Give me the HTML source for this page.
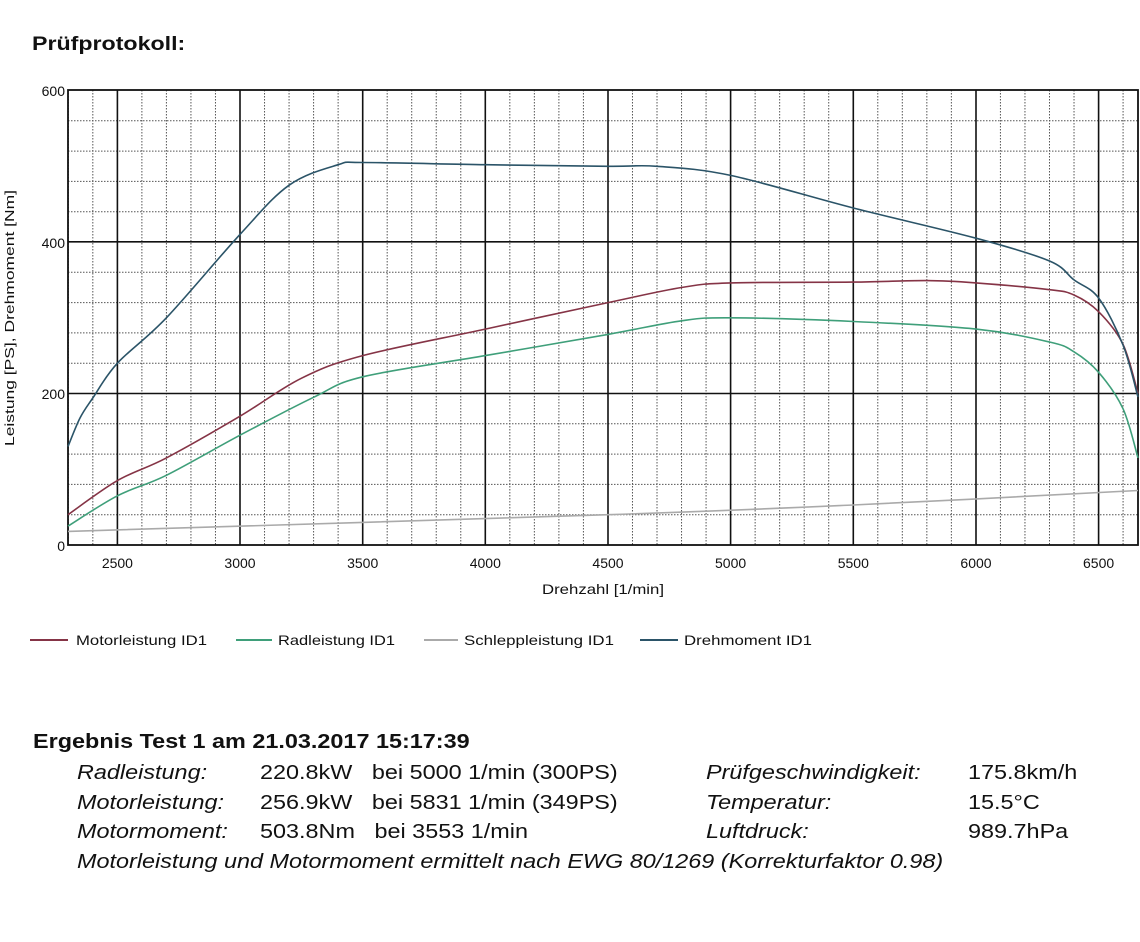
<!DOCTYPE html>
<html><head><meta charset="utf-8"><style>
body{margin:0;background:#fff;width:1140px;height:942px;overflow:hidden;font-family:"Liberation Sans",Arial,sans-serif;color:#111}
.a{position:absolute;white-space:nowrap;transform-origin:0 0;transform:scaleX(1.17)}
</style></head><body>
<div class="a" style="left:32px;top:34px;font-size:19px;font-weight:bold;transform:scaleX(1.22)">Prüfprotokoll:</div>
<svg style="position:absolute;left:0;top:0" width="1140" height="700">
<g stroke="#555" stroke-width="1" stroke-dasharray="1.5,1.5">
<line x1="68" y1="514.7" x2="1138" y2="514.7"/><line x1="68" y1="484.4" x2="1138" y2="484.4"/><line x1="68" y1="454.1" x2="1138" y2="454.1"/><line x1="68" y1="423.8" x2="1138" y2="423.8"/>
<line x1="68" y1="363.2" x2="1138" y2="363.2"/><line x1="68" y1="332.9" x2="1138" y2="332.9"/><line x1="68" y1="302.6" x2="1138" y2="302.6"/><line x1="68" y1="272.3" x2="1138" y2="272.3"/>
<line x1="68" y1="211.7" x2="1138" y2="211.7"/><line x1="68" y1="181.4" x2="1138" y2="181.4"/><line x1="68" y1="151.1" x2="1138" y2="151.1"/><line x1="68" y1="120.8" x2="1138" y2="120.8"/>
</g>
<g id="vm" stroke="#555" stroke-width="1" stroke-dasharray="1.5,1.5"></g>
<g stroke="#111" stroke-width="1.6">
<line x1="68" y1="393.5" x2="1138" y2="393.5"/><line x1="68" y1="241.8" x2="1138" y2="241.8"/>
<line x1="117.4" y1="90" x2="117.4" y2="545"/><line x1="240" y1="90" x2="240" y2="545"/><line x1="362.7" y1="90" x2="362.7" y2="545"/><line x1="485.3" y1="90" x2="485.3" y2="545"/><line x1="608" y1="90" x2="608" y2="545"/><line x1="730.6" y1="90" x2="730.6" y2="545"/><line x1="853.3" y1="90" x2="853.3" y2="545"/><line x1="976" y1="90" x2="976" y2="545"/><line x1="1098.6" y1="90" x2="1098.6" y2="545"/>
</g>
<rect x="68" y="90" width="1070" height="455" fill="none" stroke="#111" stroke-width="1.8"/>
<g fill="none" stroke-width="1.6" stroke-linejoin="round">
<path id="c0" stroke="#aaaaaa" data-p="68,531.4 608,514.7 853,505 1138,490.5"/>
<path id="c1" stroke="#3f9f7a" data-p="68,526.1 117.4,495.8 166.4,475.3 240,435.2 313.6,397.3 362.7,376.8 485.3,355.6 608,334.4 681.5,320.8 730.6,317.8 853.3,321.5 976,329.1 1049.5,342 1074,351.8 1098.6,372.3 1123,408.7 1138,457.9"/>
<path id="c2" stroke="#853446" data-p="68,514.7 117.4,480.6 166.4,457.9 240,416.2 301.3,378.3 362.7,355.6 485.3,329.1 608,302.6 681.5,287.5 730.6,282.9 853.3,282.1 926.8,280.6 976,282.9 1049.5,289.7 1074,295 1098.6,311.7 1123,344.3 1138,393.5"/>
<path id="c3" stroke="#2b5468" data-p="68,446.5 80,418 92.8,398 117.4,363.2 166.4,317.8 240,234.4 289.1,185.2 338.2,164.7 362.7,162.5 485.3,164.7 608,166.3 657,166.3 730.6,175.4 853.3,208 976,238.2 1049.5,261 1074,279.9 1098.6,298 1123,345 1138,397"/>
</g>
<g font-size="14" fill="#111" text-anchor="middle">
<text x="117.4" y="568">2500</text><text x="240" y="568">3000</text><text x="362.7" y="568">3500</text><text x="485.3" y="568">4000</text><text x="608" y="568">4500</text><text x="730.6" y="568">5000</text><text x="853.3" y="568">5500</text><text x="976" y="568">6000</text><text x="1098.6" y="568">6500</text>
<text x="603" y="594" textLength="122" lengthAdjust="spacingAndGlyphs">Drehzahl [1/min]</text>
</g>
<g font-size="14" fill="#111" text-anchor="end">
<text x="65" y="96">600</text><text x="65" y="248">400</text><text x="65" y="399">200</text><text x="65" y="551">0</text>
</g>
<text transform="translate(14,318) rotate(-90)" font-size="13" text-anchor="middle" fill="#111" textLength="256" lengthAdjust="spacingAndGlyphs">Leistung [PS], Drehmoment [Nm]</text>
<g font-size="14" fill="#111">
<line x1="30" y1="640" x2="68" y2="640" stroke="#853446" stroke-width="2"/><text x="76" y="645" textLength="131" lengthAdjust="spacingAndGlyphs">Motorleistung ID1</text>
<line x1="236" y1="640" x2="272" y2="640" stroke="#3f9f7a" stroke-width="2"/><text x="278" y="645" textLength="117" lengthAdjust="spacingAndGlyphs">Radleistung ID1</text>
<line x1="424" y1="640" x2="458" y2="640" stroke="#aaaaaa" stroke-width="2"/><text x="464" y="645" textLength="150" lengthAdjust="spacingAndGlyphs">Schleppleistung ID1</text>
<line x1="640" y1="640" x2="678" y2="640" stroke="#2b5468" stroke-width="2"/><text x="684" y="645" textLength="128" lengthAdjust="spacingAndGlyphs">Drehmoment ID1</text>
</g>
</svg>
<script>
var g=document.getElementById('vm'),s='';
for(var r=2300;r<=6600;r+=100){if(r%500==0)continue;var x=240+(r-3000)*0.2453;s+='<line x1="'+x+'" y1="90" x2="'+x+'" y2="545"/>';}
g.innerHTML=s;
for(var k=0;k<4;k++){var e=document.getElementById('c'+k);var p=e.getAttribute('data-p').split(' ').map(function(t){return t.split(',').map(Number)});
var d='M'+p[0][0]+','+p[0][1];
for(var i=0;i<p.length-1;i++){var p0=p[i-1]||p[i],p1=p[i],p2=p[i+1],p3=p[i+2]||p2;
d+=' C'+(p1[0]+(p2[0]-p0[0])/6)+','+(p1[1]+(p2[1]-p0[1])/6)+' '+(p2[0]-(p3[0]-p1[0])/6)+','+(p2[1]-(p3[1]-p1[1])/6)+' '+p2[0]+','+p2[1];}
e.setAttribute('d',d);}
</script>
<div class="a" style="left:33px;top:731px;font-size:20px;font-weight:bold">Ergebnis Test 1 am 21.03.2017 15:17:39</div>
<div style="font-size:20px">
<div class="a" style="left:77px;top:762px;font-style:italic">Radleistung:</div>
<div class="a" style="left:260px;top:762px">220.8kW&nbsp;&nbsp; bei 5000 1/min (300PS)</div>
<div class="a" style="left:77px;top:792px;font-style:italic">Motorleistung:</div>
<div class="a" style="left:260px;top:792px">256.9kW&nbsp;&nbsp; bei 5831 1/min (349PS)</div>
<div class="a" style="left:77px;top:821px;font-style:italic">Motormoment:</div>
<div class="a" style="left:260px;top:821px">503.8Nm&nbsp;&nbsp; bei 3553 1/min</div>
<div class="a" style="left:77px;top:851px;font-style:italic">Motorleistung und Motormoment ermittelt nach EWG 80/1269 (Korrekturfaktor 0.98)</div>
<div class="a" style="left:706px;top:762px;font-style:italic">Prüfgeschwindigkeit:</div>
<div class="a" style="left:968px;top:762px">175.8km/h</div>
<div class="a" style="left:706px;top:792px;font-style:italic">Temperatur:</div>
<div class="a" style="left:968px;top:792px">15.5°C</div>
<div class="a" style="left:706px;top:821px;font-style:italic">Luftdruck:</div>
<div class="a" style="left:968px;top:821px">989.7hPa</div>
</div>
</body></html>
